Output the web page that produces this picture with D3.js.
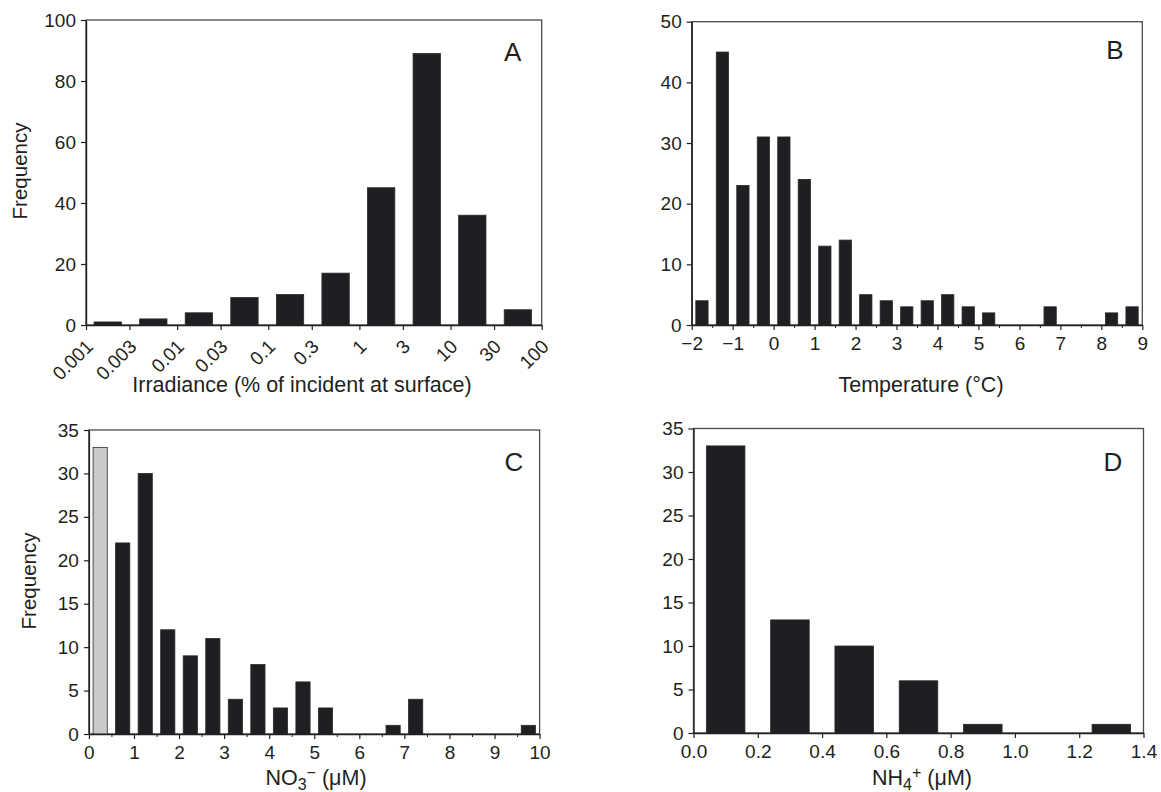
<!DOCTYPE html>
<html>
<head>
<meta charset="utf-8">
<script src="https://cdn.jsdelivr.net/npm/d3@7"></script>
<style>
  body { margin: 0; background: #fff; }
  svg { display: block; font-family: "Liberation Sans", Arial, sans-serif; }
</style>
</head>
<body>
<svg id="chart" width="1161" height="792"></svg>
<script>
// Panel A: irradiance bins (log scale), bin edges = tick values
const irrEdges = [0.001, 0.003, 0.01, 0.03, 0.1, 0.3, 1, 3, 10, 30, 100];
const irrLabels = ["0.001", "0.003", "0.01", "0.03", "0.1", "0.3", "1", "3", "10", "30", "100"];
const irrFreq = [1, 2, 4, 9, 10, 17, 45, 89, 36, 5];

// Panel B: temperature, 0.5 degree bins from -2 to 9
const tempStart = -2, tempStep = 0.5;
const tempFreq = [4, 45, 23, 31, 31, 24, 13, 14, 5, 4, 3, 4, 5, 3, 2, 0, 0, 3, 0, 0, 2, 3];
const tempTicks = [-2, -1, 0, 1, 2, 3, 4, 5, 6, 7, 8, 9];

// Panel C: nitrate, 0.5 uM bins from 0 to 10 (first bin shaded grey)
const no3Start = 0, no3Step = 0.5;
const no3Freq = [33, 22, 30, 12, 9, 11, 4, 8, 3, 6, 3, 0, 0, 1, 4, 0, 0, 0, 0, 1];
const no3Grey = [0];
const no3Ticks = [0, 1, 2, 3, 4, 5, 6, 7, 8, 9, 10];

// Panel D: ammonium, 0.2 uM bins from 0 to 1.4
const nh4Start = 0, nh4Step = 0.2;
const nh4Freq = [33, 13, 10, 6, 1, 0, 1];
const nh4Ticks = [0, 0.2, 0.4, 0.6, 0.8, 1.0, 1.2, 1.4];

const svg = d3.select("#chart");
const ink = "#231f20";
const barFill = "#1e1f23";
const tickFont = 19;
const labelFont = 21.5;

function makeBins(start, step, freq) {
  return freq.map((f, i) => ({ x0: start + i * step, x1: start + (i + 1) * step, f, i }));
}

function panel(opt) {
  const { x0, x1, y0, y1 } = opt.box;
  const g = svg.append("g");
  const x = opt.x.range([x0, x1]);
  const y = d3.scaleLinear().domain([0, opt.yMax]).range([y1, y0]);

  // frame
  g.append("rect")
    .attr("x", x0).attr("y", y0)
    .attr("width", x1 - x0).attr("height", y1 - y0)
    .attr("fill", "none").attr("stroke", "#4a4a4a").attr("stroke-width", 1.3);

  // bars
  const bw = opt.barFrac * (x1 - x0) / opt.bins.length;
  g.selectAll("rect.bar")
    .data(opt.bins.filter(d => d.f > 0))
    .join("rect")
    .attr("class", "bar")
    .attr("x", d => (x(d.x0) + x(d.x1)) / 2 - bw / 2)
    .attr("width", bw)
    .attr("y", d => y(d.f))
    .attr("height", d => y(0) - y(d.f))
    .attr("fill", d => (opt.grey || []).includes(d.i) ? "#c9cacc" : barFill)
    .attr("stroke", "#2a2a2a")
    .attr("stroke-width", 0.8);

  // minor ticks
  if (opt.minor) {
    g.append("g")
      .attr("transform", `translate(0,${y1})`)
      .call(d3.axisBottom(x).tickValues(opt.minor).tickSize(3).tickFormat(""))
      .call(a => a.select(".domain").remove())
      .call(a => a.selectAll("line").attr("stroke", ink));
  }

  // x axis
  const xa = g.append("g")
    .attr("transform", `translate(0,${y1})`)
    .call(d3.axisBottom(x).tickValues(opt.xTicks).tickFormat(opt.xFormat)
      .tickSize(5).tickSizeOuter(0).tickPadding(7));
  xa.select(".domain").attr("stroke", ink).attr("stroke-width", 1.4);
  xa.selectAll("line").attr("stroke", ink).attr("stroke-width", 1.2);
  xa.selectAll("text").attr("fill", ink).attr("font-size", tickFont)
    .attr("font-family", "Liberation Sans, Arial, sans-serif");
  if (opt.rotate) {
    xa.selectAll("text")
      .attr("x", 0).attr("y", 0).attr("dy", "0.35em")
      .attr("text-anchor", "end")
      .attr("transform", "translate(3,18) rotate(-45)");
  }

  // y axis
  const ya = g.append("g")
    .attr("transform", `translate(${x0},0)`)
    .call(d3.axisLeft(y).tickValues(opt.yTicks).tickSize(5).tickSizeOuter(0).tickPadding(5));
  ya.select(".domain").attr("stroke", ink).attr("stroke-width", 1.4);
  ya.selectAll("line").attr("stroke", ink).attr("stroke-width", 1.2);
  ya.selectAll("text").attr("fill", ink).attr("font-size", tickFont)
    .attr("font-family", "Liberation Sans, Arial, sans-serif");

  // panel letter
  g.append("text")
    .attr("x", opt.letterPos[0]).attr("y", opt.letterPos[1])
    .attr("dy", "0.35em").attr("text-anchor", "middle")
    .attr("font-size", 26).attr("fill", ink)
    .text(opt.letter);

  // x label
  const xl = g.append("text")
    .attr("x", opt.xLabelPos[0]).attr("y", opt.xLabelPos[1])
    .attr("text-anchor", "middle").attr("font-size", labelFont).attr("fill", ink);
  opt.xLabel(xl);

  if (opt.yLabelPos) {
    g.append("text")
      .attr("transform", `translate(${opt.yLabelPos[0]},${opt.yLabelPos[1]}) rotate(-90)`)
      .attr("dy", "0.35em").attr("text-anchor", "middle")
      .attr("font-size", 20.5).attr("fill", ink)
      .text("Frequency");
  }
}

const minus = v => String(v).replace("-", "\u2212");
const halfTicks = (a, b) => d3.range(a + 0.5, b, 1);

// A
panel({
  box: { x0: 86, x1: 541.7, y0: 20, y1: 325 },
  x: d3.scaleLog().domain([irrEdges[0], irrEdges[irrEdges.length - 1]]),
  bins: irrFreq.map((f, i) => ({ x0: irrEdges[i], x1: irrEdges[i + 1], f, i })),
  barFrac: 0.6,
  yMax: 100, yTicks: [0, 20, 40, 60, 80, 100],
  xTicks: irrEdges, xFormat: (d, i) => irrLabels[i], rotate: true,
  letter: "A", letterPos: [512.7, 51.5],
  xLabel: t => t.text("Irradiance (% of incident at surface)"), xLabelPos: [302, 392],
  yLabelPos: [19.5, 171]
});

// B
panel({
  box: { x0: 691.7, x1: 1142.3, y0: 21.7, y1: 325 },
  x: d3.scaleLinear().domain([tempStart, tempStart + tempStep * tempFreq.length]),
  bins: makeBins(tempStart, tempStep, tempFreq),
  barFrac: 0.6,
  yMax: 50, yTicks: [0, 10, 20, 30, 40, 50],
  xTicks: tempTicks, xFormat: minus, minor: halfTicks(-2, 9),
  letter: "B", letterPos: [1115, 50],
  xLabel: t => t.text("Temperature (\u00B0C)"), xLabelPos: [921, 392]
});

// C
panel({
  box: { x0: 88.9, x1: 539.6, y0: 430, y1: 734 },
  x: d3.scaleLinear().domain([no3Start, no3Start + no3Step * no3Freq.length]),
  bins: makeBins(no3Start, no3Step, no3Freq),
  grey: no3Grey,
  barFrac: 0.63,
  yMax: 35, yTicks: [0, 5, 10, 15, 20, 25, 30, 35],
  xTicks: no3Ticks, xFormat: d3.format("d"), minor: halfTicks(0, 10),
  letter: "C", letterPos: [514, 461.5],
  xLabel: t => {
    t.append("tspan").text("NO");
    t.append("tspan").attr("baseline-shift", "-30%").attr("font-size", 16).text("3");
    t.append("tspan").attr("baseline-shift", "45%").attr("font-size", 16).text("\u2212");
    t.append("tspan").text(" (\u03BCM)");
  },
  xLabelPos: [316, 785],
  yLabelPos: [28.5, 581]
});

// D
panel({
  box: { x0: 693.5, x1: 1143.5, y0: 428.5, y1: 733 },
  x: d3.scaleLinear().domain([nh4Start, nh4Start + nh4Step * nh4Freq.length]),
  bins: makeBins(nh4Start, nh4Step, nh4Freq),
  barFrac: 0.6,
  yMax: 35, yTicks: [0, 5, 10, 15, 20, 25, 30, 35],
  xTicks: nh4Ticks, xFormat: d3.format(".1f"),
  letter: "D", letterPos: [1113, 461.5],
  xLabel: t => {
    t.append("tspan").text("NH");
    t.append("tspan").attr("baseline-shift", "-30%").attr("font-size", 16).text("4");
    t.append("tspan").attr("baseline-shift", "45%").attr("font-size", 16).text("+");
    t.append("tspan").text(" (\u03BCM)");
  },
  xLabelPos: [922, 785]
});
</script>
</body>
</html>
